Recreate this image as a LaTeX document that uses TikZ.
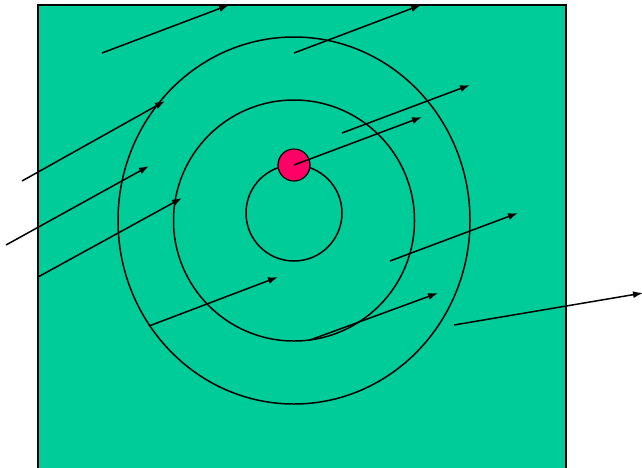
\documentclass[tikz,border=0pt]{standalone}
\usetikzlibrary{arrows.meta}
\definecolor{bggreen}{HTML}{00CC99}
\definecolor{dotred}{HTML}{FF0066}
\begin{document}
\begin{tikzpicture}[x=1pt,y=-1pt,
  ring/.style={draw=black,line width=1.5pt},
  ray/.style={draw=black,line width=1.5pt,-{Latex[length=10pt,width=7pt]}}]
\useasboundingbox (0,0) rectangle (642,467);
\clip (0,0) rectangle (642,467);
\draw[fill=bggreen,line width=1.8pt] (38,5) rectangle (566,490);
\draw[ring] (294,220.5) ellipse [x radius=176,y radius=183.5];
\draw[ring] (294,220.5) circle [radius=120.5];
\draw[ring] (294,213) circle [radius=48];
\node[circle,draw=black,line width=1.2pt,fill=dotred,minimum size=32pt,inner sep=0pt] (dot) at (294,165) {};
% arrow end points
\coordinate (a1s) at (102,53);  \coordinate (a1e) at (229,5);
\coordinate (a2s) at (294,53);  \coordinate (a2e) at (421,5);
\coordinate (a3s) at (22,181);  \coordinate (a3e) at (165,101);
\coordinate (a4s) at (6,245);   \coordinate (a4e) at (149,166);
\coordinate (a5s) at (38,277);  \coordinate (a5e) at (182,198);
\coordinate (a6s) at (342,133); \coordinate (a6e) at (470,85);
\coordinate (a7s) at (294,165); \coordinate (a7e) at (422,117);
\coordinate (a8s) at (390,261); \coordinate (a8e) at (518,213);
\coordinate (a9s) at (149,326); \coordinate (a9e) at (278,277);
\coordinate (a10s) at (310,340); \coordinate (a10e) at (438,293);
\coordinate (a11s) at (454,325); \coordinate (a11e) at (643,293);
\foreach \i in {1,...,11} { \draw[ray] (a\i s) -- (a\i e); }
\end{tikzpicture}
\end{document}
